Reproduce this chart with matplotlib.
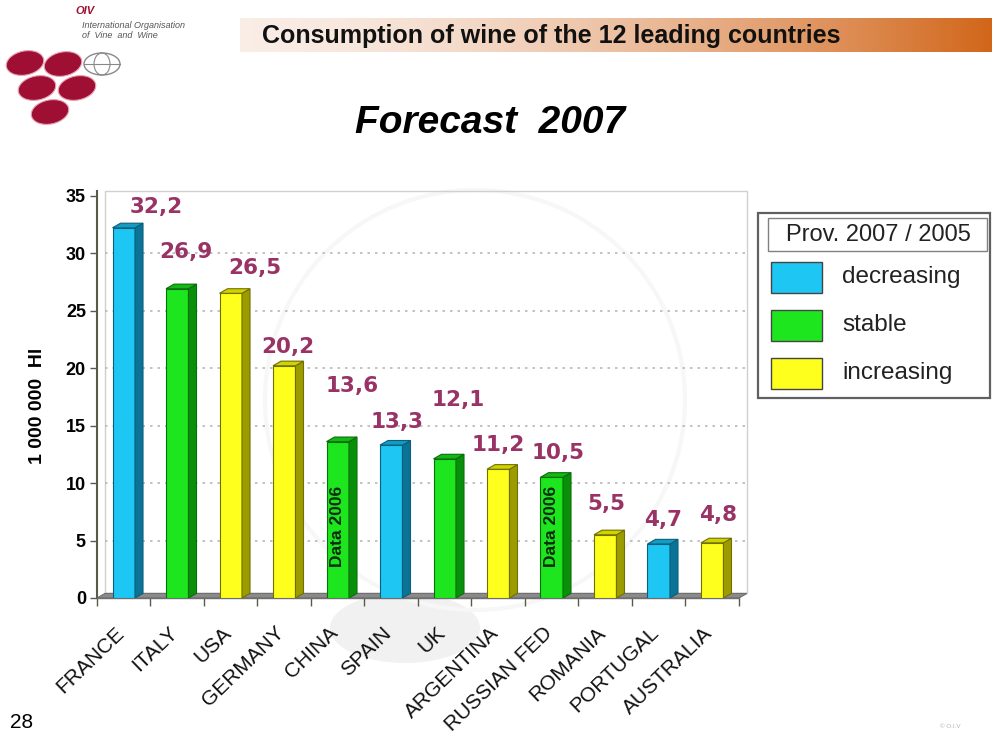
import matplotlib
matplotlib.use('Agg')
import matplotlib.pyplot as plt
from matplotlib.patches import Polygon, Rectangle, Ellipse
import matplotlib.transforms as mtransforms
import numpy as np

# ---------------- data ----------------
countries = ['FRANCE', 'ITALY', 'USA', 'GERMANY', 'CHINA', 'SPAIN', 'UK',
             'ARGENTINA', 'RUSSIAN FED', 'ROMANIA', 'PORTUGAL', 'AUSTRALIA']
values = [32.2, 26.9, 26.5, 20.2, 13.6, 13.3, 12.1, 11.2, 10.5, 5.5, 4.7, 4.8]
trend = ['decreasing', 'stable', 'increasing', 'increasing', 'stable', 'decreasing',
         'stable', 'increasing', 'stable', 'increasing', 'decreasing', 'increasing']
value_labels = ['32,2', '26,9', '26,5', '20,2', '13,6', '13,3', '12,1', '11,2',
                '10,5', '5,5', '4,7', '4,8']
data_2006 = ['CHINA', 'RUSSIAN FED']
yticks = [0, 5, 10, 15, 20, 25, 30, 35]
legend_title = 'Prov. 2007 / 2005'
legend_items = ['decreasing', 'stable', 'increasing']
title = 'Forecast  2007'
header = 'Consumption of wine of the 12 leading countries'
ylabel = '1 000 000  Hl'
page_no = '28'

# value-label placement (offset from bar centre, y centre)
label_dx = [0.60, 0.16, 0.45, 0.07, 0.26, 0.11, 0.25, 0.0, 0.12, 0.03, 0.08, 0.11]
label_y = [34.0, 30.1, 28.7, 21.8, 18.4, 15.3, 17.2, 13.3, 12.6, 8.2, 6.8, 7.2]

# ---------------- style ----------------
face = {'decreasing': '#1ec6f4', 'stable': '#1ee61e', 'increasing': '#ffff1e'}
side = {'decreasing': '#0a7396', 'stable': '#0a8f0a', 'increasing': '#9c9c00'}
topc = {'decreasing': '#129cc4', 'stable': '#14b814', 'increasing': '#d2d200'}
edge = {'decreasing': '#0b5f7a', 'stable': '#0a6e0a', 'increasing': '#707000'}
label_color = '#993366'
SANS = ['Liberation Sans', 'DejaVu Sans']

W, H = 992, 738
fig = plt.figure(figsize=(W / 100, H / 100), dpi=100)
fig.patch.set_facecolor('white')

# background overlay in pixel coordinates
bg = fig.add_axes([0, 0, 1, 1], zorder=0)
bg.set_xlim(0, W)
bg.set_ylim(H, 0)
bg.axis('off')

# header gradient band
grad = np.linspace(0, 1, 400)[None, :] ** 1.6
c0 = np.array([0.98, 0.93, 0.90])
c1 = np.array([0.82, 0.40, 0.10])
img = c0[None, None, :] * (1 - grad[..., None]) + c1[None, None, :] * grad[..., None]
bg.imshow(img, extent=(240, 992, 52, 18), aspect='auto', zorder=1)
bg.text(262, 36, header, fontsize=18, fontweight='bold', ha='left', va='center',
        family=SANS, color='#111111', zorder=2)

# logo
bg.text(75, 11, 'OIV', fontsize=8, fontweight='bold', style='italic', color='#9e0f33',
        ha='left', va='center', family=SANS)
bg.text(82, 25, 'International Organisation', fontsize=6.5, style='italic', color='#555555',
        ha='left', va='center', family=SANS)
bg.text(82, 36, 'of  Vine  and  Wine', fontsize=6.5, style='italic', color='#555555',
        ha='left', va='center', family=SANS)
for (cx, cy) in [(25, 63), (63, 64), (37, 88), (77, 88), (50, 112)]:
    bg.add_patch(Ellipse((cx, cy), 38, 24, angle=-12, facecolor='#9e0f33',
                         edgecolor='#e8a0b0', lw=0.8, zorder=3))
bg.add_patch(Ellipse((102, 64), 36, 22, facecolor='none', edgecolor='#888888', lw=1, zorder=2))
bg.add_patch(Ellipse((102, 64), 16, 22, facecolor='none', edgecolor='#888888', lw=0.8, zorder=2))
bg.plot([84, 120], [64, 64], color='#888888', lw=0.8, zorder=2)

# title
bg.text(490, 123, title, fontsize=28, fontweight='bold', style='italic',
        ha='center', va='center', family=SANS, color='black')

# faint watermark
bg.add_patch(Ellipse((405, 628), 150, 70, facecolor='#f1f1f1', edgecolor='none', zorder=0.5))
bg.add_patch(Ellipse((475, 400), 420, 420, facecolor='none', edgecolor='#f7f7f7', lw=3, zorder=0.5))

# legend (drawn manually)
bg.add_patch(Rectangle((758, 213), 232, 185, facecolor='white', edgecolor='#606060', lw=1.6, zorder=4))
bg.add_patch(Rectangle((768, 218), 219, 33, facecolor='white', edgecolor='#808080', lw=1.0, zorder=5))
bg.text(878, 235, legend_title, fontsize=17, ha='center', va='center', family=SANS,
        color='#222222', zorder=6)
for k, name in enumerate(legend_items):
    yy = 262 + k * 48
    bg.add_patch(Rectangle((771, yy), 51, 31, facecolor=face[name], edgecolor='#444444',
                           lw=1.0, zorder=5))
    bg.text(842, yy + 15, name, fontsize=17.5, ha='left', va='center', family=SANS,
            color='#222222', zorder=6)

bg.text(10, 722, page_no, fontsize=15, ha='left', va='center', family=SANS, color='black')
bg.text(940, 727, '© O.I.V', fontsize=4.5, ha='left', va='center', family=SANS, color='#b0b0b0')

# ---------------- main axes ----------------
ax = fig.add_axes([97 / W, 1 - 598 / H, 650 / W, 407 / H], zorder=1)
ax.set_facecolor('none')
ax.set_xlim(0, 12.15)
ax.set_ylim(0, 35.4)

dx, dy = 0.15, 0.40
n = len(countries)

# back wall & floor
ax.add_patch(Polygon([(dx, dy), (n + dx, dy), (n + dx, 35.4), (dx, 35.4)], closed=True,
                     facecolor='none', edgecolor='#d0d0d0', lw=1.0, zorder=0.5, clip_on=False))
ax.add_patch(Polygon([(0, 0), (n, 0), (n + dx, dy), (dx, dy)], closed=True,
                     facecolor='#8a8a8a', edgecolor='#6e6e6e', lw=0.8, zorder=1))
ax.hlines(yticks[1:-1], dx, n + dx, colors='#b8b8b8', linestyles=(0, (1.5, 3)), lw=1.2, zorder=0.8)

bw = 0.42
for i, (v, t) in enumerate(zip(values, trend)):
    xc = i + 0.5
    x0, x1 = xc - bw / 2, xc + bw / 2
    ax.add_patch(Rectangle((x0, 0), bw, v, facecolor=face[t], edgecolor=edge[t], lw=0.8, zorder=3))
    ax.add_patch(Polygon([(x1, 0), (x1 + dx, dy), (x1 + dx, v + dy), (x1, v)], closed=True,
                         facecolor=side[t], edgecolor=edge[t], lw=0.8, zorder=3))
    ax.add_patch(Polygon([(x0, v), (x0 + dx, v + dy), (x1 + dx, v + dy), (x1, v)], closed=True,
                         facecolor=topc[t], edgecolor=edge[t], lw=0.8, zorder=3))
    ax.text(xc + label_dx[i], label_y[i], value_labels[i], fontsize=15.5, fontweight='bold',
            color=label_color, ha='center', va='center', family=['DejaVu Sans'], zorder=5,
            clip_on=False)
    if countries[i] in data_2006:
        ax.text(xc, 6.2, 'Data 2006', rotation=90, fontsize=12.5, fontweight='bold',
                color='#0a2a0a', ha='center', va='center', family=SANS, zorder=5)

# axes styling
for s in ['top', 'right']:
    ax.spines[s].set_visible(False)
ax.spines['left'].set_color('#5a5a48')
ax.spines['left'].set_linewidth(1.5)
ax.spines['bottom'].set_color('#6e6e6e')
ax.spines['bottom'].set_linewidth(1.0)
ax.spines['bottom'].set_bounds(0, n)

ax.set_yticks(yticks)
ax.set_yticklabels([str(y) for y in yticks], fontsize=13, fontweight='bold', family=SANS)
ax.tick_params(axis='y', length=5, width=1, color='#5a5a48', pad=3)

ax.set_xticks(np.arange(0, n + 1))
ax.set_xticklabels([])
ax.tick_params(axis='x', length=6, width=1, color='#5a5a48')

trans = mtransforms.offset_copy(ax.get_xaxis_transform(), fig=fig, x=0, y=-32, units='dots')
for i, c in enumerate(countries):
    ax.text(i + 0.45, 0, c, transform=trans, rotation=44, rotation_mode='anchor',
            ha='right', va='center', fontsize=15, family=SANS, color='#111111', clip_on=False)

fig.text(37 / W, 1 - 406 / H, ylabel, rotation=90, fontsize=14, fontweight='bold',
         ha='center', va='center', family=SANS)

fig.savefig('out.png', dpi=100)
